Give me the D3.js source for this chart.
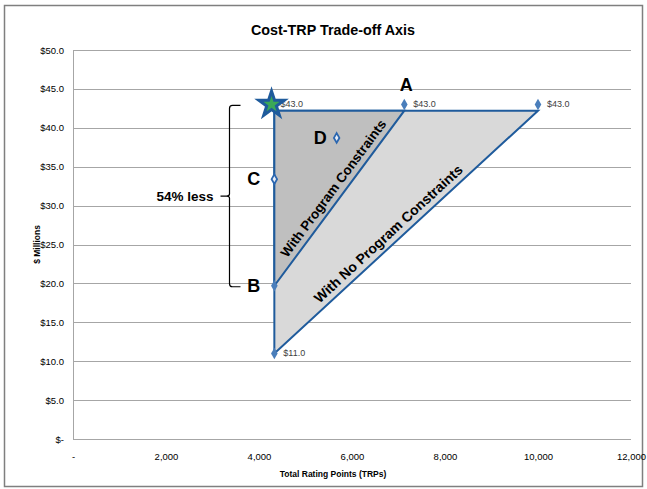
<!DOCTYPE html>
<html>
<head>
<meta charset="utf-8">
<script src="https://cdn.jsdelivr.net/npm/d3@7"></script>
<style>
  html, body { margin: 0; padding: 0; background: #fff; }
  svg { display: block; }
</style>
</head>
<body>
<svg id="chart" width="647" height="489"></svg>
<script>
// Axis ticks
const xTicks = [0, 2000, 4000, 6000, 8000, 10000, 12000];
const yTicks = [0, 5, 10, 15, 20, 25, 30, 35, 40, 45, 50];

// Labelled cost points (TRPs, $M)
const labelledTRP = [4270, 7125, 10000, 4330];
const labelledCost = [43.0, 43.0, 43.0, 11.0];

// Named scenario points
const scenarioNames = ["A", "B", "C", "D"];
const scenarioTRP = [7125, 4330, 4330, 5670];
const scenarioCost = [43.0, 19.7, 33.4, 38.7];

// Trade-off regions
const noConstraintTRP = [4330, 10000, 4330];
const noConstraintCost = [42.2, 42.2, 11.0];
const constraintTRP = [4330, 7125, 4330];
const constraintCost = [42.2, 42.2, 19.7];

// Current plan (star)
const currentTRP = 4270;
const currentCost = 43.0;

// "54% less" bracket span
const bracketCost = [43.0, 19.7];

const svg = d3.select("#chart");

const x = d3.scaleLinear().domain([0, 12000]).range([73, 631]);
const y = d3.scaleLinear().domain([0, 50]).range([439, 50]);

const narrow = "'Liberation Sans Narrow', 'Arial Narrow', 'Liberation Sans', sans-serif";
const bold = "'Liberation Sans', Arial, sans-serif";
const blue = "#1f5b9c";
const markerBlue = "#4a7ebb";

// Chart frame
svg.append("rect").attr("x", 4.5).attr("y", 5.5).attr("width", 638).attr("height", 481)
  .attr("fill", "#fff").attr("stroke", "#7f7f7f").attr("stroke-width", 1.5);

// Title
svg.append("text").attr("x", 333).attr("y", 35).attr("text-anchor", "middle")
  .attr("font-family", narrow).attr("font-weight", "bold").attr("font-size", 15.5)
  .attr("textLength", 164).attr("lengthAdjust", "spacingAndGlyphs")
  .attr("fill", "#000").text("Cost-TRP Trade-off Axis");

// Gridlines
svg.append("g").selectAll("line").data(yTicks).join("line")
  .attr("x1", x(0)).attr("x2", x(12000))
  .attr("y1", d => Math.round(y(d)) + 0.5).attr("y2", d => Math.round(y(d)) + 0.5)
  .attr("stroke", "#a6a6a6").attr("stroke-width", 1);

// Left axis line
svg.append("line").attr("x1", x(0) + 0.5).attr("x2", x(0) + 0.5)
  .attr("y1", y(50)).attr("y2", y(0) + 1)
  .attr("stroke", "#a6a6a6");

// Y axis labels
const fmtY = d => d === 0 ? "$-" : "$" + d.toFixed(1);
const yAxis = d3.axisLeft(y).tickValues(yTicks).tickFormat(fmtY).tickSize(0).tickPadding(9);
const gy = svg.append("g").attr("transform", `translate(${x(0)},0)`).call(yAxis);
gy.select(".domain").remove();
gy.selectAll("text").attr("font-family", narrow).attr("font-size", 9.5).attr("fill", "#000");

// X axis labels
const fmtX = d => d === 0 ? "-" : d3.format(",")(d);
const xAxis = d3.axisBottom(x).tickValues(xTicks).tickFormat(fmtX).tickSize(0).tickPadding(14);
const gx = svg.append("g").attr("transform", `translate(0,${y(0)})`).call(xAxis);
gx.select(".domain").remove();
gx.selectAll("text").attr("font-family", narrow).attr("font-size", 9.5).attr("fill", "#000");

// Axis titles
svg.append("text").attr("x", 333).attr("y", 477).attr("text-anchor", "middle")
  .attr("font-family", narrow).attr("font-weight", "bold").attr("font-size", 8.5)
  .text("Total Rating Points (TRPs)");
svg.append("text").attr("transform", `translate(40,${y(25)}) rotate(-90)`)
  .attr("text-anchor", "middle")
  .attr("font-family", narrow).attr("font-weight", "bold").attr("font-size", 8.5)
  .text("$ Millions");

// Regions
const line = d3.line().x(d => x(d[0])).y(d => y(d[1])).curve(d3.curveLinearClosed);
const outer = d3.zip(noConstraintTRP, noConstraintCost);
const inner = d3.zip(constraintTRP, constraintCost);
svg.append("path").attr("d", line(outer)).attr("fill", "#d9d9d9")
  .attr("stroke", blue).attr("stroke-width", 2).attr("stroke-linejoin", "miter");
svg.append("path").attr("d", line(inner)).attr("fill", "#bfbfbf")
  .attr("stroke", blue).attr("stroke-width", 2).attr("stroke-linejoin", "miter");

// Region labels along hypotenuses
function hypLabel(pts, text, t, offset, size) {
  const p0 = [x(pts[2][0]), y(pts[2][1])];
  const p1 = [x(pts[1][0]), y(pts[1][1])];
  const ang = Math.atan2(p1[1] - p0[1], p1[0] - p0[0]) * 180 / Math.PI;
  const cx = p0[0] + (p1[0] - p0[0]) * t;
  const cy = p0[1] + (p1[1] - p0[1]) * t;
  svg.append("text")
    .attr("transform", `translate(${cx},${cy}) rotate(${ang}) translate(0,${-offset})`)
    .attr("text-anchor", "middle")
    .attr("font-family", bold).attr("font-weight", "bold").attr("font-size", size)
    .attr("fill", "#000").text(text);
}
hypLabel(inner, "With Program Constraints", 0.52, 6, 13.5);
hypLabel(outer, "With No Program Constraints", 0.46, 6, 14);

// Labelled markers
const diamond = d3.symbol().type(d3.symbolDiamond).size(38);
const lab = d3.zip(labelledTRP, labelledCost);
svg.append("g").selectAll("path").data(lab.slice(1)).join("path")
  .attr("d", diamond).attr("transform", d => `translate(${x(d[0])},${y(d[1])})`)
  .attr("fill", markerBlue);
svg.append("g").selectAll("text").data(lab).join("text")
  .attr("x", d => x(d[0]) + 9).attr("y", d => y(d[1]) + 3)
  .attr("font-family", narrow).attr("font-size", 9).attr("fill", "#404040")
  .text(d => "$" + d[1].toFixed(1));

// Scenario points: B filled, C and D hollow
const sc = d3.zip(scenarioNames, scenarioTRP, scenarioCost);
svg.append("g").selectAll("path").data(sc.filter(d => d[0] === "B")).join("path")
  .attr("d", diamond).attr("transform", d => `translate(${x(d[1])},${y(d[2])})`)
  .attr("fill", markerBlue);
const smallDiamond = d3.symbol().type(d3.symbolDiamond).size(26);
svg.append("g").selectAll("path").data(sc.filter(d => d[0] === "C" || d[0] === "D")).join("path")
  .attr("d", smallDiamond).attr("transform", d => `translate(${x(d[1])},${y(d[2])})`)
  .attr("fill", "#e8eef7").attr("stroke", "#2a66b0").attr("stroke-width", 1.8);

// Scenario letters
const letterPos = { A: [2, -13, "middle"], B: [-14, 6, "end"], C: [-14, 6, "end"], D: [-10, 6, "end"] };
svg.append("g").selectAll("text").data(sc).join("text")
  .attr("x", d => x(d[1]) + letterPos[d[0]][0])
  .attr("y", d => y(d[2]) + letterPos[d[0]][1])
  .attr("text-anchor", d => letterPos[d[0]][2])
  .attr("font-family", bold).attr("font-weight", "bold").attr("font-size", 18)
  .attr("fill", "#000").text(d => d[0]);

// Current plan star
const star = d3.symbol().type(d3.symbolStar).size(200);
svg.append("path").attr("d", star)
  .attr("transform", `translate(${x(currentTRP)},${y(currentCost)})`)
  .attr("fill", "#3aa857").attr("stroke", blue).attr("stroke-width", 3).attr("stroke-linejoin", "miter");

// Bracket
const bx = 229.5, bTop = y(bracketCost[0]) + 1, bBot = y(bracketCost[1]) + 1;
const bMid = (bTop + bBot) / 2;
svg.append("path")
  .attr("d", `M${bx + 11},${bTop} L${bx + 3},${bTop} Q${bx},${bTop} ${bx},${bTop + 3} L${bx},${bMid - 2} Q${bx},${bMid} ${bx - 3},${bMid} L${bx - 9},${bMid} M${bx - 3},${bMid} Q${bx},${bMid} ${bx},${bMid + 2} L${bx},${bBot - 3} Q${bx},${bBot} ${bx + 3},${bBot} L${bx + 11},${bBot}`)
  .attr("fill", "none").attr("stroke", "#000").attr("stroke-width", 1.2);
svg.append("text").attr("x", bx - 16).attr("y", bMid + 5).attr("text-anchor", "end")
  .attr("font-family", bold).attr("font-weight", "bold").attr("font-size", 13.5)
  .text("54% less");
</script>
</body>
</html>
